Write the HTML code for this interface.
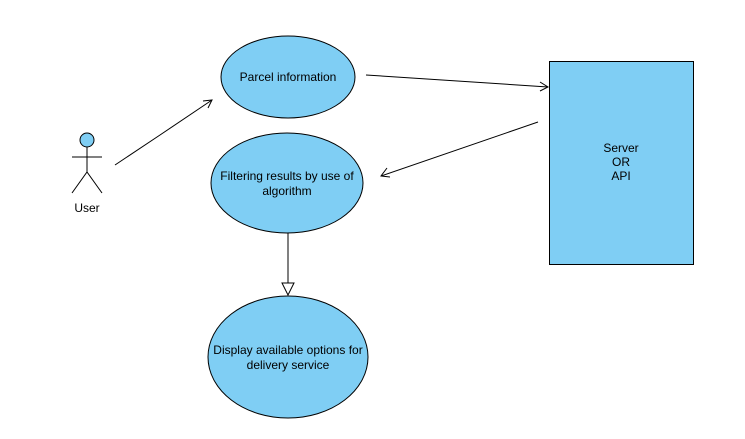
<!DOCTYPE html>
<html><head><style>body{margin:0;background:#fff}svg{display:block}</style></head><body>
<svg width="745" height="439" xmlns="http://www.w3.org/2000/svg" font-family="Liberation Sans, Arial, sans-serif" font-size="12">
<rect width="745" height="439" fill="#fff"/>
<g fill="#7fcef4" stroke="#000" stroke-width="1">
<ellipse cx="288" cy="77" rx="67" ry="41"/>
<ellipse cx="287" cy="183" rx="76" ry="50"/>
<ellipse cx="288" cy="357" rx="80" ry="61"/>
<rect x="549.5" y="61.5" width="144" height="203"/>
<circle cx="87" cy="140" r="7"/>
</g>
<g stroke="#000" fill="none" stroke-width="1">
<line x1="87" y1="147" x2="87" y2="172"/>
<line x1="72" y1="157" x2="102" y2="157"/>
<polyline points="72,193 87,172 102,193"/>
<polyline points="115,165 160,135 212,100"/>
<polyline points="203,101 212,100 208,108"/>
<line x1="366" y1="75" x2="548" y2="87"/>
<polyline points="540,82 548,87 540,91"/>
<line x1="538" y1="122" x2="381" y2="176"/>
<polyline points="387,168 381,176 390,177"/>
<line x1="288" y1="233" x2="288" y2="283"/>
<polygon points="282,283 294,283 288,295" fill="#fff"/>
</g>
<g fill="#000" text-anchor="middle">
<text x="288" y="81">Parcel information</text>
<text x="287" y="180">Filtering results by use of</text>
<text x="287" y="195">algorithm</text>
<text x="288" y="354">Display available options for</text>
<text x="288" y="369">delivery service</text>
<text x="621" y="152">Server</text>
<text x="621" y="166">OR</text>
<text x="621" y="180">API</text>
<text x="87" y="212">User</text>
</g>
</svg>
</body></html>
